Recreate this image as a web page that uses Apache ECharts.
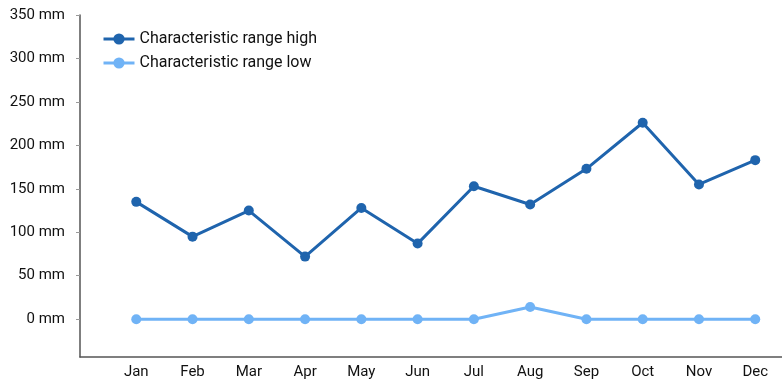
<!DOCTYPE html>
<html>
<head>
<meta charset="utf-8">
<script src="https://cdn.jsdelivr.net/npm/echarts@6/dist/echarts.min.js"></script>
<style>html,body{margin:0;padding:0;background:#fff;}#c{width:782px;height:383px;}</style>
</head>
<body>
<div id="c"></div>
<script>
const months = ['Jan','Feb','Mar','Apr','May','Jun','Jul','Aug','Sep','Oct','Nov','Dec'];
const rangeHigh = [135, 95, 125, 72, 128, 87, 153, 132, 173, 226, 155, 183];
const rangeLow = [0, 0, 0, 0, 0, 0, 0, 14, 0, 0, 0, 0];
const yTicks = [0, 50, 100, 150, 200, 250, 300, 350];

const chart = echarts.init(document.getElementById('c'), null, {renderer: 'canvas'});
const font = 'Roboto, "Liberation Sans", sans-serif';
chart.setOption({
  animation: false,
  textStyle: {fontFamily: font},
  grid: {left: 80, width: 731.5, top: 15, bottom: 26, containLabel: false, outerBoundsMode: 'none'},
  legend: {
    orient: 'vertical', left: 102, top: 31, padding: 0, itemWidth: 31, itemHeight: 14, itemGap: 8,
    textStyle: {fontSize: 16, color: '#111', fontFamily: font},
    lineStyle: {width: 3},
    data: ['Characteristic range high', 'Characteristic range low']
  },
  xAxis: {
    type: 'category', data: months, boundaryGap: false, min: -1, max: 12,
    axisLine: {show: true, onZero: false, lineStyle: {color: '#555', width: 1.5}},
    axisTick: {show: false},
    axisLabel: {fontSize: 15, color: '#111', margin: 8, fontFamily: font,
      formatter: function (v) { return months.indexOf(v) >= 0 ? v : ''; }},
    splitLine: {show: false}
  },
  yAxis: {
    type: 'value', min: -43.5, max: 350,
    axisLine: {show: true, lineStyle: {color: '#555', width: 1.5}},
    axisTick: {show: true, length: 4, customValues: yTicks, lineStyle: {color: '#999'}},
    axisLabel: {fontSize: 15, color: '#111', margin: 15, fontFamily: font, customValues: yTicks,
      formatter: function (v) { return v + ' mm'; }},
    splitLine: {show: false}
  },
  series: [
    {name: 'Characteristic range high', type: 'line', data: rangeHigh, symbol: 'circle', symbolSize: 10,
      itemStyle: {color: '#1f64ad'}, lineStyle: {width: 3, color: '#1f64ad'}},
    {name: 'Characteristic range low', type: 'line', data: rangeLow, symbol: 'circle', symbolSize: 10,
      itemStyle: {color: '#70b3f6'}, lineStyle: {width: 3, color: '#70b3f6'}}
  ]
});
</script>
</body>
</html>
